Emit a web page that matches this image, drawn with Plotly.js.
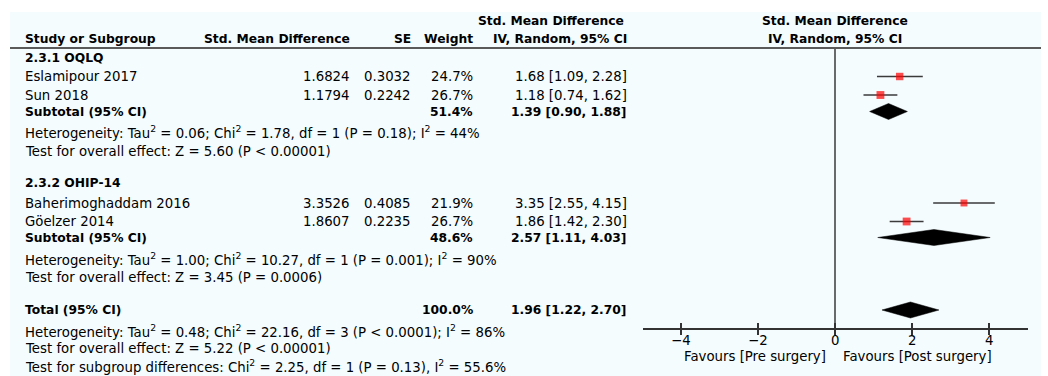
<!DOCTYPE html>
<html><head><meta charset="utf-8">
<script src="https://cdn.plot.ly/plotly-3.0.1.min.js"></script>
<style>html,body{margin:0;padding:0;background:#fff}#chart{width:1048px;height:376px}</style>
</head><body><div id="chart"></div><script>
// ---------- data ----------
const studies = ["Eslamipour 2017", "Sun 2018", "Baherimoghaddam 2016", "Göelzer 2014"];
const smd = [1.6824, 1.1794, 3.3526, 1.8607];
const se = [0.3032, 0.2242, 0.4085, 0.2235];
const weights = [24.7, 26.7, 21.9, 26.7];
const est = [1.68, 1.18, 3.35, 1.86];
const ciLow = [1.09, 0.74, 2.55, 1.42];
const ciHigh = [2.28, 1.62, 4.15, 2.30];

const groups = ["2.3.1 OQLQ", "2.3.2 OHIP-14"];
const subWeights = [51.4, 48.6];
const subEst = [1.39, 2.57];
const subLow = [0.90, 1.11];
const subHigh = [1.88, 4.03];
const subHet = [
  "Heterogeneity: Tau<sup>2</sup> = 0.06; Chi<sup>2</sup> = 1.78, df = 1 (P = 0.18); I<sup>2</sup> = 44%",
  "Heterogeneity: Tau<sup>2</sup> = 1.00; Chi<sup>2</sup> = 10.27, df = 1 (P = 0.001); I<sup>2</sup> = 90%"
];
const subTest = [
  "Test for overall effect: Z = 5.60 (P < 0.00001)",
  "Test for overall effect: Z = 3.45 (P = 0.0006)"
];

const totalWeight = [100.0];
const totalEst = [1.96];
const totalLow = [1.22];
const totalHigh = [2.70];
const totalHet = "Heterogeneity: Tau<sup>2</sup> = 0.48; Chi<sup>2</sup> = 22.16, df = 3 (P < 0.0001); I<sup>2</sup> = 86%";
const totalTest = "Test for overall effect: Z = 5.22 (P < 0.00001)";
const subgroupTest = "Test for subgroup differences: Chi<sup>2</sup> = 2.25, df = 1 (P = 0.13), I<sup>2</sup> = 55.6%";

const xTickVals = [-4, -2, 0, 2, 4];
const xRange = [-5, 5];
const favourLabels = ["Favours [Pre surgery]", "Favours [Post surgery]"];
const headers = ["Study or Subgroup", "Std. Mean Difference", "SE", "Weight", "Std. Mean Difference", "IV, Random, 95% CI"];

// ---------- layout (pixel positions) ----------
const W = 1048, H = 376;
const FONT = "DejaVu Sans, Verdana, sans-serif";
const FS = 13.3, FSB = 12.3;
const rowStudyY = [76.5, 95, 203, 221.5];
const rowGroupY = [58, 183];
const rowSubY = [111.5, 237.5];
const rowHetY = [132, 258.5];
const rowTestY = [151, 277];
const rowTotalY = 310, rowTotalHetY = 331, rowTotalTestY = 348.5, rowSubgroupY = 366;
const colName = 22.5, colSmd = 352, colSe = 412.5, colW = 475, colCI = 628.5, colPlot = 835;
const axisY = 328, ruleY = 48, tickLabelY = 340, favourY = 356;

const fmtCI = (e, l, h) => e.toFixed(2) + " [" + l.toFixed(2) + ", " + h.toFixed(2) + "]";
const annotations = [];
function ann(text, xpx, ypx, xanchor, bold) {
  annotations.push({
    text: bold ? "<b>" + text + "</b>" : text,
    xref: "paper", yref: "y", x: xpx / W, y: ypx,
    xanchor: xanchor, yanchor: "middle", showarrow: false,
    font: {family: FONT, size: bold ? FSB : FS, color: "#000"}
  });
}

// headers
ann(headers[0], colName, 39, "left", true);
ann(headers[1], colSmd, 39, "right", true);
ann(headers[2], colSe, 39, "right", true);
ann(headers[3], colW, 39, "right", true);
ann(headers[4], colCI - 3, 20.5, "right", true);
ann(headers[5], colCI, 39, "right", true);
ann(headers[4], colPlot, 20.5, "center", true);
ann(headers[5], colPlot, 39, "center", true);

// groups
groups.forEach((g, gi) => {
  ann(g, colName, rowGroupY[gi], "left", true);
  ann("Subtotal (95% CI)", colName, rowSubY[gi], "left", true);
  ann(subWeights[gi].toFixed(1) + "%", colW, rowSubY[gi], "right", true);
  ann(fmtCI(subEst[gi], subLow[gi], subHigh[gi]), colCI, rowSubY[gi], "right", true);
  ann(subHet[gi], colName, rowHetY[gi], "left", false);
  ann(subTest[gi], colName, rowTestY[gi], "left", false);
});
studies.forEach((s, i) => {
  ann(s, colName, rowStudyY[i], "left", false);
  ann(smd[i].toFixed(4), colSmd, rowStudyY[i], "right", false);
  ann(se[i].toFixed(4), colSe, rowStudyY[i], "right", false);
  ann(weights[i].toFixed(1) + "%", colW, rowStudyY[i], "right", false);
  ann(fmtCI(est[i], ciLow[i], ciHigh[i]), colCI, rowStudyY[i], "right", false);
});
ann("Total (95% CI)", colName, rowTotalY, "left", true);
ann(totalWeight[0].toFixed(1) + "%", colW, rowTotalY, "right", true);
ann(fmtCI(totalEst[0], totalLow[0], totalHigh[0]), colCI, rowTotalY, "right", true);
ann(totalHet, colName, rowTotalHetY, "left", false);
ann(totalTest, colName, rowTotalTestY, "left", false);
ann(subgroupTest, colName, rowSubgroupY, "left", false);
ann(favourLabels[0], 828, favourY, "right", false);
ann(favourLabels[1], 841, favourY, "left", false);
// tick labels placed on the data axis
xTickVals.forEach(v => annotations.push({
  text: v < 0 ? "\u2212" + Math.abs(v) : String(v),
  xref: "x", yref: "y", x: v, y: tickLabelY, xanchor: "center", yanchor: "middle",
  showarrow: false, font: {family: FONT, size: FS, color: "#000"}
}));

// ---------- traces ----------
const traces = [];
traces.push({
  type: "scatter", mode: "markers", x: est, y: rowStudyY,
  marker: {symbol: "square", color: "#ff0000", size: weights.map(w => 2.5 + w * 0.2), line: {width: 0}},
  error_x: {type: "data", symmetric: false,
    array: ciHigh.map((h, i) => h - est[i]), arrayminus: ciLow.map((l, i) => est[i] - l),
    width: 0, thickness: 1.5, color: "#3a3a3a"},
  hoverinfo: "skip", showlegend: false, xaxis: "x", yaxis: "y"
});
function diamond(e, l, h, yc) {
  traces.push({
    type: "scatter", mode: "lines", x: [l, e, h, e, l], y: [yc, yc - 8, yc, yc + 8, yc],
    fill: "toself", fillcolor: "#000", line: {color: "#000", width: 0.5},
    hoverinfo: "skip", showlegend: false, xaxis: "x", yaxis: "y"
  });
}
subEst.forEach((e, gi) => diamond(e, subLow[gi], subHigh[gi], rowSubY[gi]));
diamond(totalEst[0], totalLow[0], totalHigh[0], rowTotalY);
traces.push({type: "scatter", mode: "markers", x: [0], y: [axisY], marker: {opacity: 0},
  hoverinfo: "skip", showlegend: false, xaxis: "x2", yaxis: "y"});

const axDomain = [642.5 / W, 1027.5 / W];
const axPos = (H - axisY) / H;
const layout = {
  width: W, height: H,
  margin: {l: 0, r: 0, t: 0, b: 0, pad: 0},
  paper_bgcolor: "#ffffff", plot_bgcolor: "rgba(0,0,0,0)",
  showlegend: false,
  font: {family: FONT, size: FS, color: "#000"},
  xaxis: {domain: axDomain, range: xRange, anchor: "free", position: axPos,
    tickvals: xTickVals, ticks: "outside", ticklen: 5, tickwidth: 1.3, tickcolor: "#333",
    showticklabels: false,
    showline: true, linecolor: "#333", linewidth: 1.5, showgrid: false, zeroline: false, fixedrange: true},
  xaxis2: {domain: axDomain, range: xRange, anchor: "free", position: axPos, overlaying: "x",
    tickvals: xTickVals, ticks: "inside", ticklen: 5, tickwidth: 1.3, tickcolor: "#333",
    showticklabels: false, showline: false, showgrid: false, zeroline: false, fixedrange: true},
  yaxis: {domain: [0, 1], range: [H, 0], visible: false, showgrid: false, zeroline: false, fixedrange: true},
  shapes: [
    {type: "rect", xref: "paper", yref: "y", x0: 10 / W, x1: 1041 / W, y0: 12, y1: H,
      fillcolor: "#f4fcfe", line: {width: 0}, layer: "below"},
    {type: "line", xref: "paper", yref: "y", x0: 10 / W, x1: 1041 / W, y0: ruleY, y1: ruleY,
      line: {color: "#5a5a5a", width: 2}, layer: "above"},
    {type: "line", xref: "x", yref: "y", x0: 0, x1: 0, y0: ruleY, y1: axisY,
      line: {color: "#3a3a3a", width: 1.5}, layer: "below"}
  ],
  annotations: annotations
};
Plotly.newPlot("chart", traces, layout, {staticPlot: true, displayModeBar: false});
</script></body></html>
